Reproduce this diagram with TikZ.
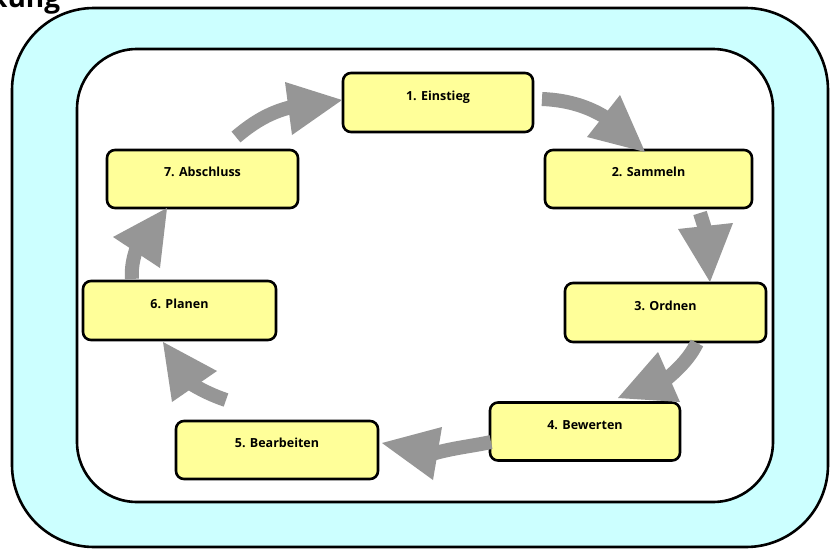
\documentclass[tikz,border=0pt]{standalone}
\usepackage{fontspec}
\setmainfont{Open Sans}
\definecolor{outercyan}{HTML}{CCFFFF}
\definecolor{boxyellow}{HTML}{FFFF99}
\definecolor{arrowgray}{HTML}{969696}
\begin{document}
\begin{tikzpicture}[x=1pt,y=-1pt,
  stepbox/.style={draw=black, line width=2.6pt, fill=boxyellow, rounded corners=8pt,
    font=\bfseries\fontsize{12.5}{14}\selectfont, text height=9pt, text depth=14pt, inner sep=0pt},
  frame/.style={draw=black, line width=2.6pt},
  shaft/.style={draw=arrowgray, line width=14pt},
  head/.style={fill=arrowgray}]
\useasboundingbox (0,0) rectangle (831,549);
% frames
\draw[frame, fill=outercyan, rounded corners=82pt] (12,8) rectangle (828,547);
\draw[frame, fill=white, rounded corners=60pt] (77,49) rectangle (773,502);
% cut-off title
\node[font=\bfseries\fontsize{28}{30}\selectfont, anchor=base west, inner sep=0pt] (title) at (-10,7) {kung};
% boxes
\node[stepbox, minimum width=190pt, minimum height=59pt] (s1) at (438,102.5) {1. Einstieg};
\node[stepbox, minimum width=207pt, minimum height=58pt] (s2) at (648.5,179) {2. Sammeln};
\node[stepbox, minimum width=201pt, minimum height=59pt] (s3) at (665.5,312.5) {3. Ordnen};
\node[stepbox, minimum width=190pt, minimum height=58pt] (s4) at (585,431.5) {4. Bewerten};
\node[stepbox, minimum width=202pt, minimum height=58pt] (s5) at (277,450) {5. Bearbeiten};
\node[stepbox, minimum width=193pt, minimum height=59pt] (s6) at (179.5,310.5) {6. Planen};
\node[stepbox, minimum width=191pt, minimum height=58pt] (s7) at (202.5,179) {7. Abschluss};
% arrow 7 -> 1
\coordinate (a1t) at (236,137);
\coordinate (a1b) at (296,106);
\coordinate (a1l) at (285,82);
\coordinate (a1r) at (292,135);
\coordinate (a1p) at (342,100);
\draw[shaft] (a1t) .. controls (255,121) and (272,111) .. (a1b);
\fill[head] (a1l) -- (a1p) -- (a1r) -- cycle;
% arrow 1 -> 2
\coordinate (a2t) at (542,99);
\coordinate (a2b) at (608,119);
\coordinate (a2l) at (620,95);
\coordinate (a2r) at (587,137);
\coordinate (a2p) at (645,152);
\draw[shaft] (a2t) .. controls (568,100) and (590,107) .. (a2b);
\fill[head] (a2l) -- (a2p) -- (a2r) -- cycle;
% arrow 2 -> 3
\coordinate (a3t) at (700,213);
\coordinate (a3b) at (706,232);
\coordinate (a3l) at (678,229);
\coordinate (a3r) at (733,223);
\coordinate (a3p) at (710,282);
\draw[shaft] (a3t) -- (a3b);
\fill[head] (a3l) -- (a3p) -- (a3r) -- cycle;
% arrow 3 -> 4
\coordinate (a4t) at (697,343);
\coordinate (a4b) at (664,381);
\coordinate (a4l) at (658,352);
\coordinate (a4r) at (680,402);
\coordinate (a4p) at (618,398);
\draw[shaft] (a4t) .. controls (690,357) and (679,369) .. (a4b);
\fill[head] (a4l) -- (a4p) -- (a4r) -- cycle;
% arrow 4 -> 5
\coordinate (a5t) at (491,442);
\coordinate (a5b) at (432,454);
\coordinate (a5l) at (442,427);
\coordinate (a5r) at (433,480);
\coordinate (a5p) at (382,443);
\draw[shaft] (a5t) .. controls (473,446) and (452,448) .. (a5b);
\fill[head] (a5l) -- (a5p) -- (a5r) -- cycle;
% arrow 5 -> 6
\coordinate (a6t) at (226,400);
\coordinate (a6b) at (190,383);
\coordinate (a6l) at (217,371);
\coordinate (a6r) at (172,402);
\coordinate (a6p) at (163,342);
\draw[shaft] (a6t) .. controls (214,396) and (201,390) .. (a6b);
\fill[head] (a6l) -- (a6p) -- (a6r) -- cycle;
% arrow 6 -> 7
\coordinate (a7t) at (132,279);
\coordinate (a7b) at (137,247);
\coordinate (a7l) at (113,237);
\coordinate (a7r) at (160,268);
\coordinate (a7p) at (167,208);
\draw[shaft] (a7t) .. controls (131,270) and (133,258) .. (a7b);
\fill[head] (a7l) -- (a7p) -- (a7r) -- cycle;
\end{tikzpicture}
\end{document}
